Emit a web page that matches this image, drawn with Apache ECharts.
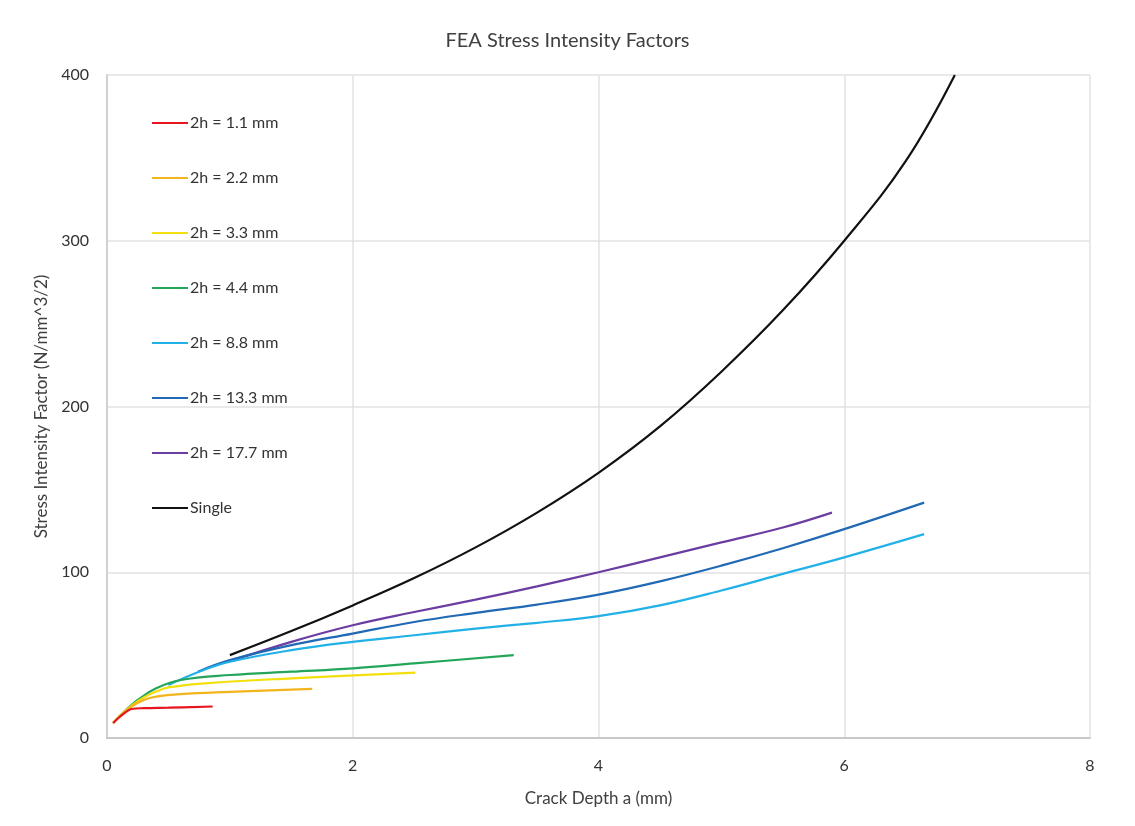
<!DOCTYPE html>
<html>
<head>
<meta charset="utf-8">
<script src="https://cdn.jsdelivr.net/npm/echarts@6/dist/echarts.min.js"></script>
<style>html,body{margin:0;padding:0;background:#fff}#c{width:1135px;height:826px}</style>
</head>
<body>
<div id="c"></div>
<script>
const seriesNames = ['2h = 1.1 mm','2h = 2.2 mm','2h = 3.3 mm','2h = 4.4 mm','2h = 8.8 mm','2h = 13.3 mm','2h = 17.7 mm','Single'];
const xTicks = [0, 2, 4, 6, 8];
const yTicks = [0, 100, 200, 300, 400];

const h11 = [[0.05,9],[0.1,12.5],[0.15,15.5],[0.2,17.5],[0.3,18],[0.5,18.3],[0.86,19]];
const h22 = [[0.05,9],[0.1,13],[0.2,19],[0.3,23],[0.4,25],[0.6,26.5],[1.0,27.8],[1.67,29.6]];
const h33 = [[0.05,9],[0.1,13],[0.2,19.5],[0.3,24.5],[0.4,28],[0.5,30.5],[0.8,33],[1.5,36],[2.51,39.5]];
const h44 = [[0.05,9],[0.1,13],[0.2,20],[0.25,23],[0.4,30],[0.6,35],[1.0,38],[1.5,40],[2.0,42],[2.5,45],[3.31,50]];
const h88 = [[0.5,32],[0.75,40],[1.0,46],[1.5,53],[2.0,58],[2.5,62],[3.0,66],[3.5,69.5],[4.0,73.5],[4.5,80],[5.0,89],[5.5,99],[6.0,109],[6.65,123]];
const h133 = [[0.74,40],[1.0,47],[1.5,56],[2.0,63],[2.5,70],[3.0,75.5],[3.5,80.5],[4.0,86.5],[4.5,94.5],[5.0,104],[5.5,114.5],[6.0,126],[6.65,142]];
const h177 = [[1.03,47],[1.5,58],[2.0,68],[2.5,76],[3.0,83.5],[3.5,91.5],[4.0,100],[4.5,109],[5.0,118],[5.5,127],[5.9,136]];
const single = [[1.0,50],[1.5,64.5],[2.0,80],[2.5,96.5],[3.0,115],[3.5,136],[4.0,160],[4.5,188],[5.0,221],[5.5,258],[6.0,300],[6.5,348],[6.9,400]];

const dataSets = [h11, h22, h33, h44, h88, h133, h177, single];
const colors = ['#e8151f','#f2b51e','#f3df0c','#23a65a','#22b1e6','#2169b5','#6b3da1','#111111'];

const FONT = 'Lato, "Open Sans", sans-serif';
const chart = echarts.init(document.getElementById('c'), null, {renderer:'canvas'});
chart.setOption({
  animation: false,
  backgroundColor: '#fff',
  title: {
    text: 'FEA Stress Intensity Factors',
    left: 'center', top: 26,
    textStyle: {fontFamily: FONT, fontSize: 20, fontWeight: 'normal', color: '#404040'}
  },
  legend: {
    orient: 'vertical', left: 147, top: 110,
    itemWidth: 36, itemHeight: 14, itemGap: 39,
    icon: 'path://M0,6 L36,6 L36,8 L0,8 Z',
    textStyle: {fontFamily: FONT, fontSize: 16, color: '#333', padding: [0,0,0,-3]},
    data: seriesNames
  },
  grid: {left: 107, right: 45, top: 75, bottom: 88, containLabel: false},
  xAxis: {
    type: 'value', min: 0, max: 8, interval: 2,
    name: 'Crack Depth a (mm)', nameLocation: 'middle', nameGap: 52,
    nameTextStyle: {fontFamily: FONT, fontSize: 17, color: '#404040'},
    axisLine: {show: true, lineStyle: {color: '#c8c8c8', width: 2}},
    axisTick: {show: false},
    axisLabel: {fontFamily: FONT, fontSize: 16, color: '#333', margin: 20, formatter: v => xTicks.includes(v) ? String(v) : ''},
    splitLine: {show: true, lineStyle: {color: '#e2e2e2', width: 1.5}}
  },
  yAxis: {
    type: 'value', min: 0, max: 400, interval: 100,
    name: 'Stress Intensity Factor (N/mm^3/2)', nameLocation: 'middle', nameGap: 54,
    nameTextStyle: {fontFamily: FONT, fontSize: 17, color: '#404040'},
    axisLine: {show: true, lineStyle: {color: '#d0d0d0', width: 2}},
    axisTick: {show: false},
    axisLabel: {fontFamily: FONT, fontSize: 16, color: '#333', margin: 18, formatter: v => yTicks.includes(v) ? String(v) : ''},
    splitLine: {show: true, lineStyle: {color: '#e2e2e2', width: 1.5}}
  },
  series: dataSets.map((d, i) => ({
    name: seriesNames[i], type: 'line', data: d, smooth: 0.4,
    showSymbol: false, symbol: 'none',
    lineStyle: {color: colors[i], width: 2.2},
    itemStyle: {color: colors[i]},
    z: 10 - i
  }))
});
</script>
</body>
</html>
